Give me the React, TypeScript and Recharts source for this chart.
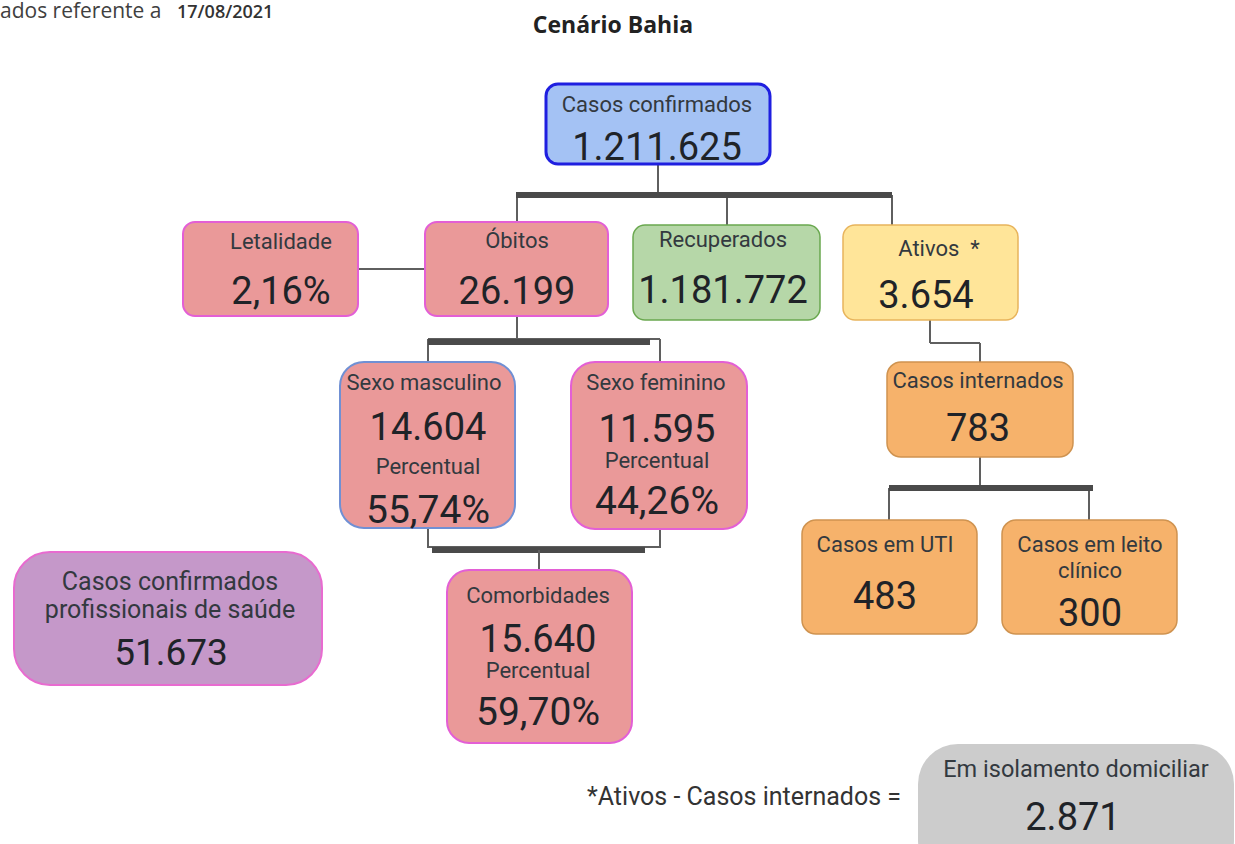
import React from 'react';
import { ScatterChart, Scatter, XAxis, YAxis, ReferenceLine, Customized } from 'recharts';

const W = 1235;
const H = 844;

// indicadores (Bahia, 17/08/2021)
const titulos = [
	'Casos confirmados',
	'Letalidade',
	'Óbitos',
	'Recuperados',
	'Ativos  *',
	'Sexo masculino',
	'Sexo feminino',
	'Casos internados',
	'Casos em UTI',
	'Casos em leito\nclínico',
	'Comorbidades',
	'Casos confirmados\nprofissionais de saúde',
	'Em isolamento domiciliar',
];
const valores = [
	'1.211.625',
	'2,16%',
	'26.199',
	'1.181.772',
	'3.654',
	'14.604',
	'11.595',
	'783',
	'483',
	'300',
	'15.640',
	'51.673',
	'2.871',
];
const percentuais = ['', '', '', '', '', '55,74%', '44,26%', '', '', '', '59,70%', '', ''];

// where each box sits in the chart's coordinate space
const caixas = [
	{ x0: 546, y0: 84, x1: 770, y1: 164, r: 12, tema: 'azul', lx: 657, vx: 657, ly: [112], vy: 160 },
	{ x0: 183, y0: 222, x1: 358, y1: 316, r: 12, tema: 'rosa', lx: 281, vx: 281, ly: [249], vy: 304 },
	{ x0: 425, y0: 222, x1: 608, y1: 316, r: 12, tema: 'rosa', lx: 517, vx: 517, ly: [248], vy: 304 },
	{ x0: 633, y0: 225, x1: 820, y1: 320, r: 12, tema: 'verde', lx: 723, vx: 723, ly: [247], vy: 303 },
	{ x0: 843, y0: 225, x1: 1018, y1: 320, r: 12, tema: 'amarelo', lx: 939, vx: 926, ly: [256], vy: 308 },
	{ x0: 340, y0: 362, x1: 515, y1: 528, r: 24, tema: 'rosaAzul', lx: 424, vx: 428, ly: [390], vy: 440, py: 474, qy: 523 },
	{ x0: 571, y0: 362, x1: 747, y1: 529, r: 24, tema: 'rosa', lx: 656, vx: 657, ly: [390], vy: 442, py: 468, qy: 514 },
	{ x0: 887, y0: 362, x1: 1073, y1: 457, r: 14, tema: 'laranja', lx: 978, vx: 978, ly: [388], vy: 441 },
	{ x0: 802, y0: 520, x1: 977, y1: 634, r: 14, tema: 'laranja', lx: 885, vx: 885, ly: [552], vy: 609 },
	{ x0: 1002, y0: 520, x1: 1177, y1: 634, r: 14, tema: 'laranja', lx: 1090, vx: 1090, ly: [552, 578], vy: 626 },
	{ x0: 447, y0: 570, x1: 632, y1: 743, r: 22, tema: 'rosa', lx: 538, vx: 538, ly: [603], vy: 652, py: 678, qy: 725 },
	{ x0: 14, y0: 552, x1: 322, y1: 685, r: 36, tema: 'roxo', lx: 170, vx: 171, ly: [590, 618], vy: 665, fl: 25, fv: 37 },
	{ x0: 918, y0: 744, x1: 1234, y1: 880, r: 40, tema: 'cinza', lx: 1076, vx: 1073, ly: [777], vy: 830, fl: 23.5 },
];

// connectors: [x1, y1, x2, y2, thick]
const ligacoes: [number, number, number, number, boolean][] = [
	[658, 164, 658, 195, false],
	[517, 195, 517, 222, false],
	[727, 195, 727, 225, false],
	[892, 195, 892, 225, false],
	[516, 195, 892, 195, true],
	[358, 269, 425, 269, false],
	[517, 316, 517, 341, false],
	[428, 339, 660, 339, false],
	[428, 339, 428, 362, false],
	[660, 339, 660, 362, false],
	[428, 342, 650, 342, true],
	[428, 528, 428, 548, false],
	[660, 529, 660, 548, false],
	[428, 547, 660, 547, false],
	[432, 550, 645, 550, true],
	[539, 550, 539, 570, false],
	[930, 320, 930, 343, false],
	[930, 343, 980, 343, false],
	[980, 343, 980, 362, false],
	[980, 457, 980, 488, false],
	[889, 488, 889, 520, false],
	[1089, 488, 1089, 520, false],
	[889, 488, 1093, 488, true],
];

const temas: Record<string, { fill: string; stroke: string; sw: number }> = {
	azul: { fill: '#a4c2f4', stroke: '#1f1fe0', sw: 3 },
	rosa: { fill: '#ea9999', stroke: '#e35fd5', sw: 2 },
	rosaAzul: { fill: '#ea9999', stroke: '#7090d4', sw: 2 },
	verde: { fill: '#b6d7a8', stroke: '#6aa84f', sw: 1.5 },
	amarelo: { fill: '#ffe599', stroke: '#e8b45c', sw: 1.5 },
	laranja: { fill: '#f6b26b', stroke: '#cf9350', sw: 1.5 },
	roxo: { fill: '#c598c9', stroke: '#e86bd0', sw: 2 },
	cinza: { fill: '#cccccc', stroke: 'none', sw: 0 },
};

const nos = caixas.map((c, i) => ({
	x: (c.x0 + c.x1) / 2,
	y: (c.y0 + c.y1) / 2,
	w: c.x1 - c.x0,
	h: c.y1 - c.y0,
	r: c.r,
	tema: c.tema,
	dlx: c.lx - (c.x0 + c.x1) / 2,
	dvx: c.vx - (c.x0 + c.x1) / 2,
	ly: c.ly.map((v) => v - c.y0),
	vy: c.vy - c.y0,
	py: c.py ? c.py - c.y0 : 0,
	qy: c.qy ? c.qy - c.y0 : 0,
	fl: c.fl || 22,
	fv: c.fv || 38,
	titulo: titulos[i],
	valor: valores[i],
	pct: percentuais[i],
}));

const FONTE = 'Roboto, sans-serif';

const Caixa = (props: any) => {
	const { cx, cy, payload: p } = props;
	const t = temas[p.tema];
	const left = cx - p.w / 2;
	const top = cy - p.h / 2;
	return (
		<g fontFamily={FONTE}>
			<rect x={left} y={top} width={p.w} height={p.h} rx={p.r} ry={p.r} fill={t.fill} stroke={t.stroke} strokeWidth={t.sw} />
			{p.titulo.split('\n').map((s: string, i: number) => (
				<text
					key={i}
					x={cx + p.dlx}
					y={top + p.ly[i]}
					textAnchor='middle'
					fontSize={p.fl}
					fill='#33393f'
					style={{ whiteSpace: 'pre' }}
				>
					{s}
				</text>
			))}
			<text x={cx + p.dvx} y={top + p.vy} textAnchor='middle' fontSize={p.fv} fill='#1f2328'>
				{p.valor}
			</text>
			{p.pct && (
				<>
					<text x={cx + p.dvx} y={top + p.py} textAnchor='middle' fontSize={22} fill='#33393f'>
						Percentual
					</text>
					<text x={cx + p.dvx} y={top + p.qy} textAnchor='middle' fontSize={39} fill='#1f2328'>
						{p.pct}
					</text>
				</>
			)}
		</g>
	);
};

const Textos = () => (
	<g>
		<text x={0} y={18} fontFamily="'Open Sans', sans-serif" fontSize={21} fill='#404040'>
			ados referente a
		</text>
		<text x={177} y={18} fontFamily="'Open Sans', sans-serif" fontSize={18} fontWeight={600} fill='#333'>
			17/08/2021
		</text>
		<text x={613} y={33} textAnchor='middle' fontFamily="'Open Sans', sans-serif" fontSize={23} fontWeight={700} fill='#222'>
			Cenário Bahia
		</text>
		<text x={587} y={805} fontFamily={FONTE} fontSize={25} fill='#333'>
			*Ativos - Casos internados =
		</text>
	</g>
);

export default function App() {
	return (
		<div style={{ position: 'absolute', left: 0, top: 0, width: W, height: H, background: '#fff' }}>
			<ScatterChart width={W} height={H} margin={{ top: 0, right: 0, bottom: 0, left: 0 }}>
				<XAxis type='number' dataKey='x' domain={[0, W]} hide allowDataOverflow />
				<YAxis type='number' dataKey='y' domain={[0, H]} reversed hide allowDataOverflow />
				{ligacoes.map(([x1, y1, x2, y2, grossa], i) => (
					<ReferenceLine
						key={i}
						segment={[
							{ x: x1, y: y1 },
							{ x: x2, y: y2 },
						]}
						stroke={grossa ? '#4a4a4a' : '#5f5f5f'}
						strokeWidth={grossa ? 6 : 2}
						ifOverflow='visible'
					/>
				))}
				<Scatter data={nos} shape={<Caixa />} isAnimationActive={false} />
				<Customized component={Textos} />
			</ScatterChart>
		</div>
	);
}
